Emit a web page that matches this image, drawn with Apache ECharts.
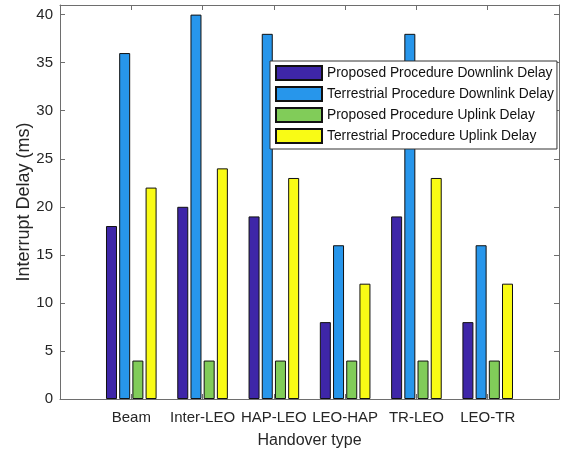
<!DOCTYPE html>
<html>
<head>
<meta charset="utf-8">
<script src="https://cdn.jsdelivr.net/npm/echarts@6/dist/echarts.min.js"></script>
<style>
  html, body { margin: 0; padding: 0; background: #fff; }
  #chart { width: 562px; height: 451px; }
</style>
</head>
<body>
<div id="chart"></div>
<script>
// Handover categories, placed at x = 1..6 on a 0..7 axis
const categories = ['Beam', 'Inter-LEO', 'HAP-LEO', 'LEO-HAP', 'TR-LEO', 'LEO-TR'];

// Interrupt delay in ms
const proposedDownlink    = [18, 20, 19, 8, 19, 8];
const terrestrialDownlink = [36, 40, 38, 16, 38, 16];
const proposedUplink      = [4, 4, 4, 4, 4, 4];
const terrestrialUplink   = [22, 24, 23, 12, 23, 12];

// Y tick labels
const yTicks = [0, 5, 10, 15, 20, 25, 30, 35, 40];

const seriesNames = [
  'Proposed Procedure Downlink Delay',
  'Terrestrial Procedure Downlink Delay',
  'Proposed Procedure Uplink Delay',
  'Terrestrial Procedure Uplink Delay'
];
const seriesColors = ['#3E26A8', '#2796EB', '#81CC59', '#F9FB15'];
const seriesValues = [proposedDownlink, terrestrialDownlink, proposedUplink, terrestrialUplink];
const xTicks = categories.map((c, i) => i + 1);

const FONT = "'Liberation Sans', Arial, sans-serif";
const TEXT = '#262626';
const AXIS = '#6e6e6e';

const chart = echarts.init(document.getElementById('chart'), null, { renderer: 'canvas' });

const axisLineStyle = { show: true, onZero: false, lineStyle: { color: AXIS, width: 1 } };
const ticks = values => ({
  show: true, inside: true, length: 5,
  lineStyle: { color: AXIS, width: 1 },
  customValues: values
});

chart.setOption({
  animation: false,
  backgroundColor: '#fff',
  textStyle: { fontFamily: FONT },
  grid: { left: 60, right: 3, top: 5, bottom: 52, containLabel: false, outerBoundsMode: 'none' },
  legend: {
    orient: 'vertical',
    left: 270,
    top: 61,
    data: seriesNames,
    itemWidth: 46,
    itemHeight: 14,
    itemGap: 5,
    padding: [4, 3, 5, 5],
    backgroundColor: '#fff',
    borderColor: '#333',
    borderWidth: 1,
    borderRadius: 0,
    icon: 'rect',
    textStyle: { fontFamily: FONT, fontSize: 13.8, color: '#111', lineHeight: 14 }
  },
  xAxis: [
    {
      type: 'value',
      min: 0,
      max: 7,
      interval: 1,
      position: 'bottom',
      name: 'Handover type',
      nameLocation: 'middle',
      nameGap: 34,
      nameMoveOverlap: false,
      nameTextStyle: { fontFamily: FONT, fontSize: 16, color: TEXT },
      axisLine: axisLineStyle,
      axisTick: ticks(xTicks),
      axisLabel: {
        fontFamily: FONT, fontSize: 15, color: TEXT, margin: 11,
        customValues: xTicks,
        formatter: v => categories[Math.round(v) - 1] || ''
      },
      splitLine: { show: false }
    },
    {
      type: 'value',
      min: 0,
      max: 7,
      interval: 1,
      position: 'top',
      axisLine: axisLineStyle,
      axisTick: ticks(xTicks),
      axisLabel: { show: false },
      splitLine: { show: false }
    }
  ],
  yAxis: [
    {
      type: 'value',
      min: 0,
      max: 41,
      interval: 5,
      position: 'left',
      name: 'Interrupt Delay (ms)',
      nameLocation: 'middle',
      nameGap: 27,
      nameMoveOverlap: false,
      nameTextStyle: { fontFamily: FONT, fontSize: 18, color: TEXT },
      axisLine: axisLineStyle,
      axisTick: ticks(yTicks),
      axisLabel: {
        fontFamily: FONT, fontSize: 15, color: TEXT, margin: 7,
        customValues: yTicks
      },
      splitLine: { show: false }
    },
    {
      type: 'value',
      min: 0,
      max: 41,
      interval: 5,
      position: 'right',
      axisLine: axisLineStyle,
      axisTick: ticks(yTicks),
      axisLabel: { show: false },
      splitLine: { show: false }
    }
  ],
  series: seriesValues.map((vals, i) => ({
    name: seriesNames[i],
    type: 'bar',
    xAxisIndex: 0,
    yAxisIndex: 0,
    barWidth: 11,
    barGap: '20%',
    itemStyle: { color: seriesColors[i], borderColor: '#111', borderWidth: 1 },
    data: vals.map((v, j) => [j + 1, v])
  }))
});
</script>
</body>
</html>
